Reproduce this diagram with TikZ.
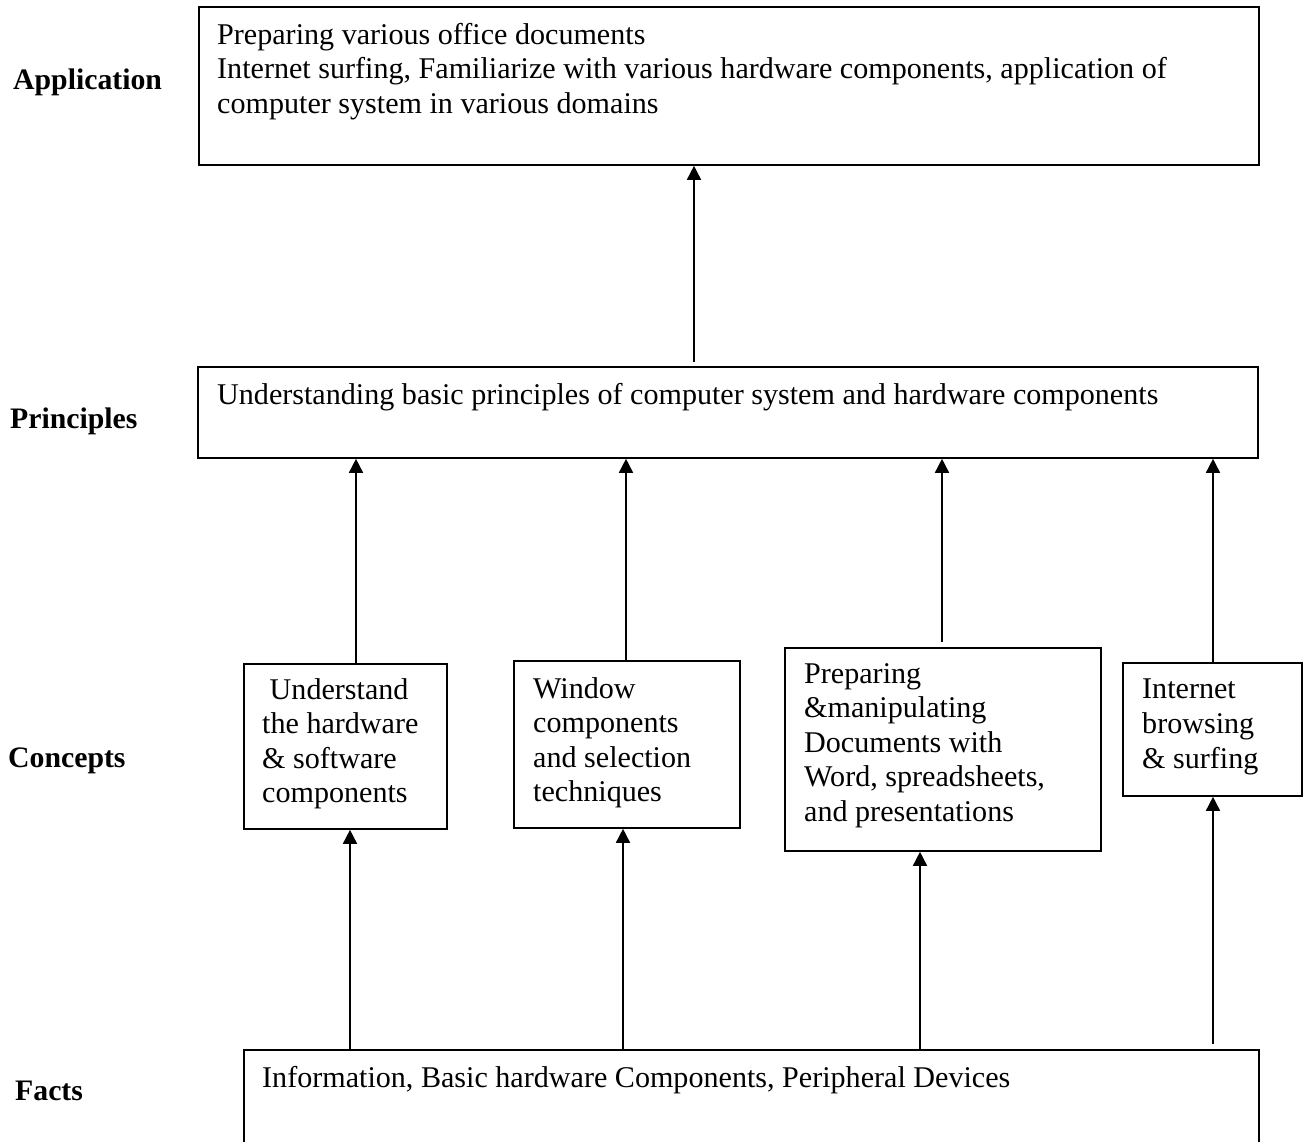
\documentclass[tikz,border=0pt]{standalone}
\usepackage{fontspec}
\setmainfont{Liberation Serif}
\usetikzlibrary{arrows.meta}
\begin{document}
\begin{tikzpicture}[x=1pt,y=-1pt,
  box/.style={draw, line width=1.8pt, rectangle, inner sep=0pt, anchor=north west},
  txt/.style={inner sep=0pt, anchor=north west, align=left,
    font=\fontsize{30.1}{34.6}\selectfont, execute at begin node=\strut},
  lbl/.style={inner sep=0pt, anchor=base west, font=\fontsize{29.75}{34.2}\selectfont\bfseries},
  arr/.style={line width=1.6pt, -{Triangle[width=14pt,length=14pt]}}]
\clip (0,0) rectangle (1307,1141);
\fill[white] (0,0) rectangle (1307,1141);
% boxes
\node[box, minimum width=1060pt, minimum height=158pt] (app) at (198,6) {};
\node[box, minimum width=1060pt, minimum height=91pt] (prin) at (197,366) {};
\node[box, minimum width=203pt, minimum height=165pt] (c1) at (243,663) {};
\node[box, minimum width=226pt, minimum height=167pt] (c2) at (513,660) {};
\node[box, minimum width=316pt, minimum height=203pt] (c3) at (784,647) {};
\node[box, minimum width=179pt, minimum height=133pt] (c4) at (1122,662) {};
\node[box, minimum width=1015pt, minimum height=120pt] (facts) at (243,1049) {};
% texts
\node[txt] (tapp) at (217,23) {Preparing various office documents\\
Internet surfing, Familiarize with various hardware components, application of\\
computer system in various domains};
\node[txt] (tprin) at (217,380) {Understanding basic principles of computer system and hardware components};
\node[txt] (tc1) at (262,678) {\hspace*{0.25em}Understand\\the hardware\\\& software\\components};
\node[txt] (tc2) at (533,677) {Window\\components\\and selection\\techniques};
\node[txt] (tc3) at (804,663) {Preparing\\\&manipulating\\Documents with\\Word, spreadsheets,\\and presentations};
\node[txt] (tc4) at (1142,679) {Internet\\browsing\\\& surfing};
\node[txt] (tfacts) at (262,1063) {Information, Basic hardware Components, Peripheral Devices};
% labels
\node[lbl] (lapp) at (13,89) {Application};
\node[lbl] (lprin) at (10,428) {Principles};
\node[lbl] (lcon) at (8,767) {Concepts};
\node[lbl] (lfac) at (15,1100) {Facts};
% arrow columns
\coordinate (xa) at (694,0);
\coordinate (xp1) at (356,0);
\coordinate (xp2) at (626,0);
\coordinate (xp3) at (942,0);
\coordinate (xp4) at (1213,0);
\coordinate (xf1) at (350,0);
\coordinate (xf2) at (623,0);
\coordinate (xf3) at (920,0);
\coordinate (xf4) at (1213,0);
% arrows
\draw[arr] ([yshift=4pt]prin.north -| xa) -- (app.south -| xa);
\draw[arr] (c1.north -| xp1) -- (prin.south -| xp1);
\draw[arr] (c2.north -| xp2) -- (prin.south -| xp2);
\draw[arr] ([yshift=5pt]c3.north -| xp3) -- (prin.south -| xp3);
\draw[arr] (c4.north -| xp4) -- (prin.south -| xp4);
\draw[arr] (facts.north -| xf1) -- (c1.south -| xf1);
\draw[arr] (facts.north -| xf2) -- (c2.south -| xf2);
\draw[arr] (facts.north -| xf3) -- (c3.south -| xf3);
\draw[arr] ([yshift=5pt]facts.north -| xf4) -- (c4.south -| xf4);
\end{tikzpicture}
\end{document}
